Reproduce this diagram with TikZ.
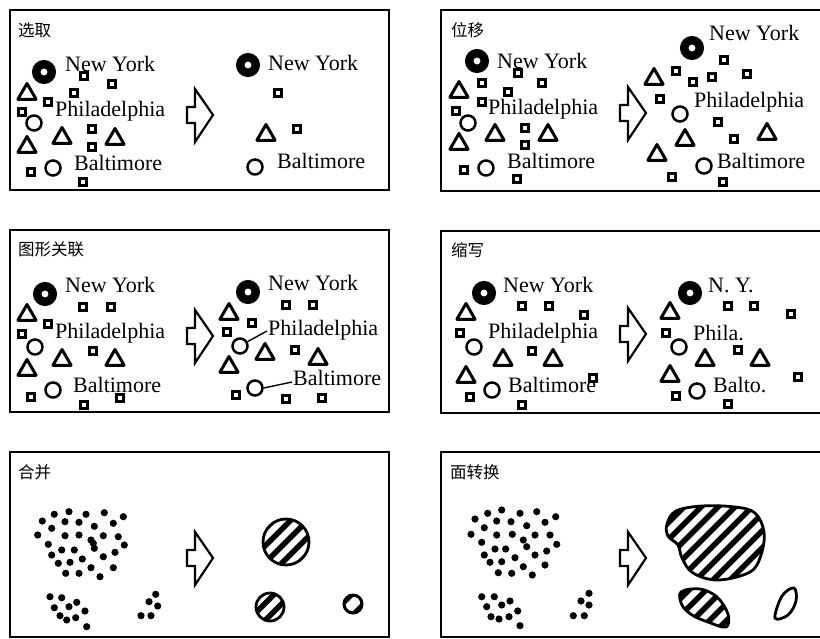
\documentclass[tikz,border=0pt]{standalone}
\usepackage{fontspec}
\setmainfont{Liberation Serif}
\newfontfamily\cjk{Noto Sans CJK SC}
\usetikzlibrary{shapes.geometric}
\tikzset{
  frame/.style={line width=1.8pt},
  lbl/.style={font=\cjk\fontsize{16.5}{16.5}\selectfont, anchor=west, inner sep=0},
  city/.style={font=\fontsize{22}{22}\selectfont, anchor=base west, inner sep=0},
  sq/.style={draw, line width=3pt, fill=white, minimum size=6.5pt, inner sep=0},
  tri/.style={draw, line width=3pt, regular polygon, regular polygon sides=3, minimum size=21pt, inner sep=0, line join=round},
  circ/.style={draw, circle, line width=2.5pt, minimum size=15pt, inner sep=0},
  bull/.style={draw, circle, line width=8.5pt, fill=white, minimum size=15.5pt, inner sep=0},
  harrow/.style={draw, line width=2.2pt, line join=miter},
  leader/.style={line width=1.4pt},
  hatch/.style={line width=5.5pt},
  outline/.style={line width=2.8pt},
  dot/.style={fill=black}
}
\newcommand\pArrow[2]{%
  \draw[harrow] (#1,#2) -- ({#1-18},{#2-26}) -- ({#1-18},{#2-8}) -- ({#1-26},{#2-8})
    -- ({#1-26},{#2+8}) -- ({#1-18},{#2+8}) -- ({#1-18},{#2+27}) -- cycle;}
\begin{document}
\begin{tikzpicture}[x=1pt,y=-1pt]
\useasboundingbox (0,0) rectangle (820,638);
% frames
\draw[frame] (10,10) rectangle (389,190);
\draw[frame] (10,230) rectangle (389,412);
\draw[frame] (10,452) rectangle (389,637);
\draw[frame] (824,10) -- (441,10) -- (441,191) -- (824,191);
\draw[frame] (824,231) -- (441,231) -- (441,413) -- (824,413);
\draw[frame] (824,452) -- (441,452) -- (441,637) -- (824,637);
% labels
\node[lbl] (t1) at (18,30) {选取};
\node[lbl] (t2) at (451,30) {位移};
\node[lbl] (t3) at (18,249) {图形关联};
\node[lbl] (t4) at (451,250) {缩写};
\node[lbl] (t5) at (18,472) {合并};
\node[lbl] (t6) at (450,472) {面转换};
% arrows
\pArrow{213}{115}
\pArrow{646}{113}
\pArrow{213}{336}
\pArrow{646}{334}
\pArrow{213}{558}
\pArrow{646}{558}

% ===== Panel 1 left
\node[bull] (b1a) at (44,72) {};
\foreach \p [count=\i] in {(84,76),(112,84),(74,93),(48,102),(22,112),(92,129),(92,147),(31,172),(83,182)}
  \node[sq] (s1a-\i) at \p {};
\foreach \p [count=\i] in {(27,94),(62,138),(115,139),(27,147)}
  \node[tri] (r1a-\i) at \p {};
\node[circ] (c1a-1) at (34,123) {};
\node[circ] (c1a-2) at (53,168) {};
\node[city] (ny1a) at (65,71) {New York};
\node[city] (ph1a) at (55,116) {Philadelphia};
\node[city] (ba1a) at (74,170) {Baltimore};
% Panel 1 right
\node[bull] (b1b) at (248,65) {};
\node[sq] (s1b-1) at (278,93) {};
\node[sq] (s1b-2) at (297,129) {};
\node[tri] (r1b-1) at (266,135) {};
\node[circ] (c1b-1) at (255,167) {};
\node[city] (ny1b) at (268,70) {New York};
\node[city] (ba1b) at (277,168) {Baltimore};

% ===== Panel 2 left
\node[bull] (b2a) at (477,61) {};
\foreach \p [count=\i] in {(518,73),(482,83),(542,83),(508,92),(482,102),(456,111),(525,128),(525,145),(464,170),(517,179)}
  \node[sq] (s2a-\i) at \p {};
\foreach \p [count=\i] in {(459,92),(495,135),(548,135),(459,144)}
  \node[tri] (r2a-\i) at \p {};
\node[circ] (c2a-1) at (468,123) {};
\node[circ] (c2a-2) at (486,168) {};
\node[city] (ny2a) at (497,68) {New York};
\node[city] (ph2a) at (488,114) {Philadelphia};
\node[city] (ba2a) at (507,168) {Baltimore};
% Panel 2 right
\node[bull] (b2b) at (692,48) {};
\foreach \p [count=\i] in {(724,60),(676,71),(712,77),(747,74),(693,82),(660,99),(718,122),(734,139),(672,177),(723,182)}
  \node[sq] (s2b-\i) at \p {};
\foreach \p [count=\i] in {(654,79),(685,140),(767,134),(657,155)}
  \node[tri] (r2b-\i) at \p {};
\node[circ] (c2b-1) at (680,114) {};
\node[circ] (c2b-2) at (704,166) {};
\node[city] (ny2b) at (709,40) {New York};
\node[city] (ph2b) at (694,107) {Philadelphia};
\node[city] (ba2b) at (717,168) {Baltimore};

% ===== Panel 3 left
\node[bull] (b3a) at (45,294) {};
\foreach \p [count=\i] in {(83,307),(111,307),(48,324),(22,334),(93,351),(31,397),(84,405),(120,398)}
  \node[sq] (s3a-\i) at \p {};
\foreach \p [count=\i] in {(27,315),(62,360),(115,360),(27,370)}
  \node[tri] (r3a-\i) at \p {};
\node[circ] (c3a-1) at (35,347) {};
\node[circ] (c3a-2) at (53,390) {};
\node[city] (ny3a) at (65,292) {New York};
\node[city] (ph3a) at (55,338) {Philadelphia};
\node[city] (ba3a) at (73,392) {Baltimore};
% Panel 3 right
\node[bull] (b3b) at (248,292) {};
\foreach \p [count=\i] in {(286,305),(313,305),(252,323),(227,332),(295,350),(236,395),(286,399),(322,398)}
  \node[sq] (s3b-\i) at \p {};
\foreach \p [count=\i] in {(229,314),(265,354),(318,359),(229,367)}
  \node[tri] (r3b-\i) at \p {};
\node[circ] (c3b-1) at (240,346) {};
\node[circ] (c3b-2) at (255,388) {};
\node[city] (ny3b) at (268,290) {New York};
\node[city] (ph3b) at (268,335) {Philadelphia};
\node[city] (ba3b) at (293,385) {Baltimore};
\draw[leader] (c3b-1.30) -- ([xshift=-1pt,yshift=4pt]ph3b.base west);
\draw[leader] (c3b-2.east) -- ([xshift=-1pt,yshift=3pt]ba3b.base west);

% ===== Panel 4 left
\node[bull] (b4a) at (484,293) {};
\foreach \p [count=\i] in {(522,306),(549,306),(584,315),(460,333),(532,351),(593,378),(470,397),(522,405)}
  \node[sq] (s4a-\i) at \p {};
\foreach \p [count=\i] in {(466,314),(503,360),(553,360),(466,377)}
  \node[tri] (r4a-\i) at \p {};
\node[circ] (c4a-1) at (474,347) {};
\node[circ] (c4a-2) at (492,390) {};
\node[city] (ny4a) at (503,292) {New York};
\node[city] (ph4a) at (488,338) {Philadelphia};
\node[city] (ba4a) at (508,392) {Baltimore};
% Panel 4 right
\node[bull] (b4b) at (690,293) {};
\foreach \p [count=\i] in {(728,306),(754,306),(791,314),(666,333),(738,350),(798,377),(676,396),(728,404)}
  \node[sq] (s4b-\i) at \p {};
\foreach \p [count=\i] in {(670,313),(705,360),(760,360),(670,376)}
  \node[tri] (r4b-\i) at \p {};
\node[circ] (c4b-1) at (679,347) {};
\node[circ] (c4b-2) at (697,391) {};
\node[city] (ny4b) at (708,292) {N. Y.};
\node[city] (ph4b) at (693,340) {Phila.};
\node[city] (ba4b) at (713,392) {Balto.};

% ===== Panel 5 dots
\foreach \p in {(54.3,514.3),(69,511.7),(86,514.3),(104.3,512.7),(123.3,516.7),
  (42.3,521),(65,521.7),(79,522.3),(94.3,526.3),(113.3,523.3),
  (37.7,535),(51.7,528.3),(65,535.7),(79,535),(91,540),(103.3,535.7),(118.3,536.7),
  (48.3,544.3),(61.7,550),(74.3,550),(93.3,543.3),(94.3,548.3),(124.3,545),(115,552.3),
  (51.7,555),(58.3,563.3),(70,562.3),(82.3,559),(103.3,556.7),(91,567.7),(113.3,567.7),
  (65.7,573.3),(79,573.3),(100,576.7),
  (50,596.7),(61.7,597.7),(54.3,607.7),(69,606.7),(76.7,602.3),(85,611),(60,615.7),(66.7,620),(75.7,617.7),(86.7,626.7),
  (155.7,594.3),(149,601.7),(157.7,606),(141,615.7),(151,615.7)}
  \fill[dot] \p circle (3.6pt);
% Panel 5 hatched circles
\begin{scope}
  \clip (286,542) circle (23pt);
  \foreach \t in {-51,-34,...,51} \draw[hatch] ({286+\t-40},{542+40}) -- ({286+\t+40},{542-40});
\end{scope}
\draw[outline] (286,542) circle (23pt);
\begin{scope}
  \clip (270,607) circle (14pt);
  \foreach \t in {-8.5,8.5} \draw[hatch] ({270+\t-30},{607+30}) -- ({270+\t+30},{607-30});
\end{scope}
\draw[outline] (270,607) circle (14pt);
\begin{scope}
  \clip (353,604) circle (9pt);
  \foreach \t in {-11,11} \draw[hatch] ({353+\t-20},{604+20}) -- ({353+\t+20},{604-20});
\end{scope}
\draw[line width=3pt] (353,604) circle (9pt);

% ===== Panel 6 dots
\foreach \p in {(475,519),(487.7,513.3),(501.7,510),(520,513.3),(536.7,511.7),(555.7,516.7),
  (484.3,527.7),(496.7,521),(511,521.7),(526.7,525.7),(545,522.3),
  (471,534.3),(496.7,535),(512.3,534.3),(535,535),(550,535),
  (481.7,542.3),(495,549),(505.7,549),(523.3,540),(526.7,546.7),(556.7,544.3),(546.7,551),
  (484.3,555),(490,562.3),(501.7,561.7),(515,557.7),(535,555),(523.3,566.7),(545,565),
  (498.3,572.7),(511.7,573.3),(532.3,575),
  (481.7,596.7),(494.3,596.7),(486.7,606.7),(501.7,605),(510,601),(517.7,611),(491,616.7),(499,619),(509,616.7),(520,625.7),
  (589,593.3),(581,601),(589,605),(573.3,615.7),(584.3,615.7)}
  \fill[dot] \p circle (3.6pt);
% Panel 6 hatched areas
\def\blobA{plot[smooth cycle, tension=0.6] coordinates {(667,524) (676,511) (702,506) (735,507) (755,513) (764,532) (761,555) (750,572) (718,580) (693,573) (682,558) (678,545) (668,536)}}
\begin{scope}
  \clip \blobA;
  \foreach \t in {-102,-85,...,102} \draw[hatch] ({716+\t-60},{543+60}) -- ({716+\t+60},{543-60});
\end{scope}
\draw[outline] \blobA;
\def\blobB{plot[smooth cycle, tension=0.6] coordinates {(681,592) (700,589) (717,597) (728,614) (726,627) (708,622) (692,615) (682,605)}}
\begin{scope}
  \clip \blobB;
  \foreach \t in {-34,-17,...,34} \draw[hatch] ({705+\t-30},{608+30}) -- ({705+\t+30},{608-30});
\end{scope}
\draw[outline] \blobB;
\draw[outline] plot[smooth cycle, tension=0.6] coordinates {(775,618) (782,596) (794,588) (796,601) (788,615)};
\end{tikzpicture}
\end{document}
